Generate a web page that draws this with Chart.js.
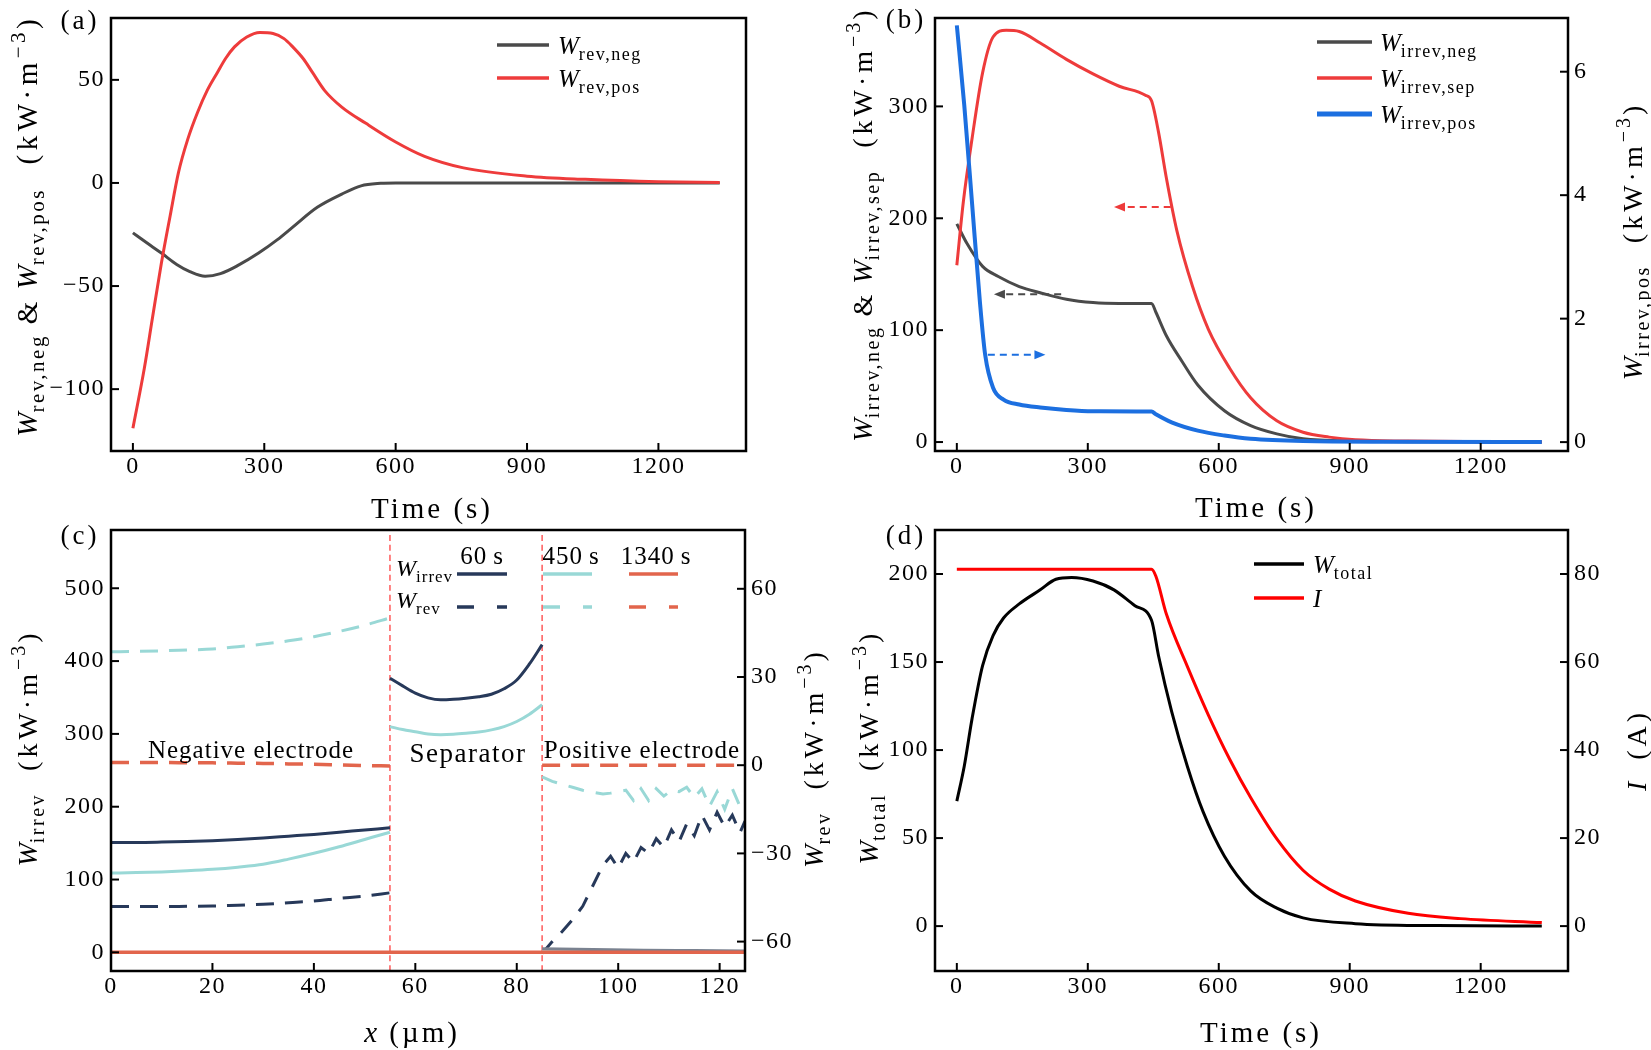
<!DOCTYPE html>
<html>
<head>
<meta charset="utf-8">
<script src="https://cdn.jsdelivr.net/npm/chart.js@4.4.1/dist/chart.umd.min.js"></script>
<style>
  html, body { margin: 0; background: #fff; }
  #wrap { position: relative; width: 1651px; height: 1050px; }
  canvas { position: absolute; left: 0; top: 0; }
</style>
</head>
<body>
<div id="wrap">
  <canvas id="pa" width="1651" height="1050"></canvas>
  <canvas id="pb" width="1651" height="1050"></canvas>
  <canvas id="pc" width="1651" height="1050"></canvas>
  <canvas id="pd" width="1651" height="1050"></canvas>
</div>
<script>
// ---- data ----
// (a) reversible heat vs time
const tRevNeg = [0, 30, 65, 100, 130, 165, 200, 240, 287, 330, 365, 421, 477, 521, 566, 600, 700, 900, 1100, 1340];
const wRevNeg = [-24.2, -28.8, -34, -39.5, -43, -45.3, -44, -40, -34, -27.5, -21.4, -11.8, -5.4, -1.4, -0.2, 0, 0, 0, 0, 0];
const tRevPos = [0, 26, 45, 65, 85, 104, 125, 148, 170, 193, 212, 232, 260, 290, 320, 345, 365, 390, 410, 438, 477, 532, 599, 666, 755, 900, 1033, 1200, 1340];
const wRevPos = [-119, -90, -65, -39, -16, 5, 21, 34.4, 45, 53.6, 60.5, 66, 70.8, 73, 72.5, 70, 66, 60, 53.6, 44.8, 36.8, 28.9, 20, 12.9, 7.3, 3.3, 1.75, 0.6, 0.2];

// (b) irreversible heat vs time
const tIrrNeg = [0, 23, 59, 95, 143, 191, 251, 312, 372, 446, 456, 480, 516, 552, 613, 673, 733, 793, 913, 1100, 1340];
const wIrrNeg = [195, 177.6, 157, 148, 139, 133.5, 127.7, 124.7, 123.9, 123.9, 116, 95, 72, 51, 28, 14.7, 7.3, 2.9, 0.9, 0.2, 0];
const tIrrSep = [0, 15, 35, 59, 83, 113, 143, 191, 251, 312, 372, 432, 446, 462, 480, 504, 540, 576, 625, 673, 733, 793, 853, 913, 1034, 1200, 1340];
const wIrrSep = [158, 215, 271.5, 330, 362, 368, 367, 356.6, 342, 329, 318, 310, 305, 277, 236, 189, 139, 101, 66, 39.6, 19, 8.8, 4.4, 2, 0.9, 0.3, 0];
const tIrrPos = [0, 17, 35, 53, 65, 83, 107, 143, 191, 251, 312, 446, 456, 492, 552, 613, 673, 793, 1000, 1340];
const wIrrPos = [6.75, 5.46, 3.86, 2.26, 1.41, 0.88, 0.69, 0.61, 0.56, 0.52, 0.50, 0.495, 0.45, 0.32, 0.186, 0.106, 0.053, 0.016, 0.005, 0];

// (c) profiles along x
const xNeg = [0, 5, 10, 15, 20, 25, 30, 35, 40, 45, 50, 55];
const irr60Neg = [151, 151, 151.5, 152.3, 153.4, 155, 157, 159.5, 162, 165, 168, 171];
const irr450Neg = [109, 109.5, 110.5, 112, 114, 117, 121, 128, 136, 145, 155, 165];
const rev60Neg = [-48.1, -48.1, -48.1, -48, -47.9, -47.6, -47.3, -46.8, -46.2, -45.3, -44.5, -43.4];
const rev450Neg = [38.6, 38.7, 38.9, 39.2, 39.5, 40.3, 41.2, 42.3, 43.7, 45.5, 47.6, 50.1];
const rev1340Neg = [0.9, 0.9, 0.9, 0.85, 0.8, 0.7, 0.6, 0.45, 0.3, 0.1, -0.1, -0.3];
const xSep = [55, 57.5, 60, 62.5, 65, 67.5, 70, 72.5, 75, 77.5, 80, 82.5, 85];
const irr60Sep = [376.5, 366, 356, 349.5, 346.8, 347.5, 349, 351, 354.5, 362, 374, 396, 422.6];
const irr450Sep = [310, 306, 303, 300, 299, 299.5, 300.8, 302.5, 305.5, 310, 317, 327, 340];
const xPosC = [85, 95, 105, 115, 125];
const irr60Pos = [5, 4, 3, 2.5, 2];
const irr450Pos = [3, 2.5, 2, 1.5, 1];
const xAll = [0, 55, 85, 125];
const irr1340 = [0, 0, 0, 0];
const xPos = [85, 87, 89, 91, 93, 95, 97, 98.5, 100, 101.5, 103, 104.5, 106, 107.5, 109, 110.5, 112, 113.5, 115, 116.5, 118, 119.5, 121, 122.5, 124, 125];
const rev60Pos = [-64, -60, -56.5, -52.5, -48, -41, -34, -31, -35, -30, -33, -28, -30, -25, -28, -22, -26, -20, -24, -17, -22, -16, -21, -17, -23, -19];
const rev450Pos = [-4, -5.5, -6.5, -7.5, -8.5, -9.2, -9.8, -9.5, -9, -8.5, -12, -8, -12, -8, -10.5, -8.5, -9, -7.5, -11, -8, -14, -9, -15, -8, -14, -16];
const xPosEnds = [85, 125];
const rev1340Pos = [0, 0];
const xBounds = [55, 85];

// (d) total heat and current
const tTotal = [0, 17, 35, 59, 83, 107, 143, 191, 227, 263, 312, 360, 408, 446, 462, 492, 528, 564, 613, 673, 733, 793, 913, 1100, 1340];
const wTotal = [71, 90.8, 118, 148, 165, 175, 183, 191, 197, 198, 196, 191, 182, 173.7, 153.6, 122, 90.8, 65, 39.7, 20, 10.2, 4.7, 1.4, 0.3, 0];
const tCurr = [0, 446, 456, 480, 528, 576, 625, 673, 733, 793, 853, 913, 1034, 1154, 1340];
const iCurr = [81.1, 81.1, 79.5, 70.9, 59, 48, 37.9, 29.2, 19.8, 12.7, 8.4, 5.7, 2.9, 1.7, 0.8];

// ticks
const timeTicks = [0, 300, 600, 900, 1200];
const aTicks = [-100, -50, 0, 50];
const bTicks = [0, 100, 200, 300];
const bTicksR = [0, 2, 4, 6];
const cTicksX = [0, 20, 40, 60, 80, 100, 120];
const cTicks = [0, 100, 200, 300, 400, 500];
const cTicksR = [-60, -30, 0, 30, 60];
const dTicks = [0, 50, 100, 150, 200];
const dTicksR = [0, 20, 40, 60, 80];

// ---- helpers ----
const FONT = '"Liberation Serif", "DejaVu Serif", "Times New Roman", serif';
const W = 1651, H = 1050, AX = 70, XH = 40;
const GREY = '#4a4a4a', RED = '#ee3b3b', BLUE = '#1c6fe0';
const NAVY = '#27395a', TEAL = '#99d8d6', ORANGE = '#e2654c';

const pts = (xs, ys) => xs.map((x, i) => ({ x: x, y: ys[i] }));
const fmt = v => (v < 0 ? '\u2212' + (-v) : String(v));

function line(xs, ys, color, width, extra) {
  return Object.assign({
    data: pts(xs, ys), borderColor: color, borderWidth: width,
    pointRadius: 0, fill: false, cubicInterpolationMode: 'monotone', yAxisID: 'y'
  }, extra || {});
}

function axis(pos, min, max, ticks) {
  return {
    type: 'linear', position: pos, min: min, max: max,
    afterBuildTicks: s => { s.ticks = ticks.map(v => ({ value: v })); },
    afterFit: s => { if (pos === 'bottom') s.height = XH; else s.width = AX; },
    grid: { display: false, drawTicks: false },
    border: { display: false },
    ticks: {
      font: { family: FONT, size: 24, lineHeight: 1 }, color: '#000',
      padding: pos === 'bottom' ? 4 : 6, autoSkip: false, maxRotation: 0,
      callback: v => fmt(v)
    }
  };
}

function rich(ctx, x, y, parts, size, align, rot) {
  const fz = k => (k === 's' || k === 'p') ? Math.round(size * 0.72) : size;
  const font = k => (k === 'i' ? 'italic ' : '') + fz(k) + 'px ' + FONT;
  let w = 0;
  const ws = parts.map(p => {
    ctx.font = font(p[1]); ctx.letterSpacing = (p[2] || 0) + 'px';
    const m = ctx.measureText(p[0]).width; w += m; return m;
  });
  ctx.save();
  ctx.translate(x, y);
  if (rot) ctx.rotate(-Math.PI / 2);
  let cx = align === 'center' ? -w / 2 : 0;
  ctx.fillStyle = '#000'; ctx.textBaseline = 'alphabetic'; ctx.textAlign = 'left';
  const base = size * 0.34;
  parts.forEach((p, i) => {
    ctx.font = font(p[1]); ctx.letterSpacing = (p[2] || 0) + 'px';
    const dy = p[1] === 's' ? size * 0.26 : p[1] === 'p' ? -size * 0.4 : 0;
    ctx.fillText(p[0], cx, base + dy);
    cx += ws[i];
  });
  ctx.restore();
  ctx.letterSpacing = '0px';
}

function seg(ctx, x1, x2, y, color, width, dash) {
  ctx.save();
  ctx.strokeStyle = color; ctx.lineWidth = width; ctx.setLineDash(dash || []);
  ctx.beginPath(); ctx.moveTo(x1, y); ctx.lineTo(x2, y); ctx.stroke();
  ctx.restore();
}

function arrow(ctx, x1, x2, y, color) {
  ctx.save();
  ctx.strokeStyle = color; ctx.fillStyle = color; ctx.lineWidth = 2;
  const dir = Math.sign(x2 - x1);
  ctx.setLineDash([7, 5]);
  ctx.beginPath(); ctx.moveTo(x1, y); ctx.lineTo(x2 - dir * 8, y); ctx.stroke();
  ctx.setLineDash([]);
  ctx.beginPath();
  ctx.moveTo(x2, y); ctx.lineTo(x2 - dir * 11, y - 4.5); ctx.lineTo(x2 - dir * 11, y + 4.5);
  ctx.closePath(); ctx.fill();
  ctx.restore();
}

function deco(draw) {
  return {
    id: 'deco',
    beforeLayout(c) { c.ctx.letterSpacing = '1.5px'; },
    beforeDraw(c) { c.ctx.letterSpacing = '1.5px'; },
    afterDraw(c) {
      const ctx = c.ctx, a = c.chartArea;
      ctx.save();
      ctx.letterSpacing = '0px';
      ctx.strokeStyle = '#000'; ctx.lineWidth = 2;
      Object.values(c.scales).forEach(s => {
        s.ticks.forEach(t => {
          const p = s.getPixelForValue(t.value);
          ctx.beginPath();
          if (s.position === 'bottom') { ctx.moveTo(p, a.bottom); ctx.lineTo(p, a.bottom - 8); }
          else if (s.position === 'left') { ctx.moveTo(a.left, p); ctx.lineTo(a.left + 8, p); }
          else { ctx.moveTo(a.right, p); ctx.lineTo(a.right - 8, p); }
          ctx.stroke();
        });
      });
      ctx.lineWidth = 2.5;
      ctx.strokeRect(a.left, a.top, a.right - a.left, a.bottom - a.top);
      draw(ctx, c);
      ctx.restore();
    }
  };
}

function build(id, area, scales, datasets, draw) {
  const hasR = !!scales.y1;
  return new Chart(document.getElementById(id), {
    type: 'line',
    data: { datasets: datasets },
    options: {
      responsive: false, animation: false, devicePixelRatio: 1, events: [],
      layout: { padding: { left: area.l - AX, right: W - area.r - (hasR ? AX : 0), top: area.t, bottom: H - area.b - XH } },
      plugins: { legend: { display: false }, tooltip: { enabled: false } },
      scales: scales
    },
    plugins: [deco(draw)]
  });
}

const unit = [['  (kW\u00b7m', 'r', 4], ['\u22123', 'p', 3], [')', 'r']];
const unitA = [['  (kW\u00b7m', 'r', 4.5], ['\u22123', 'p', 3.5], [')', 'r']];

// ---- (a) ----
build('pa', { l: 111, r: 746, t: 12, b: 451 },
  { x: axis('bottom', -50, 1400, timeTicks), y: axis('left', -130, 80, aTicks) },
  [
    line(tRevPos, wRevPos, RED, 3),
    line(tRevNeg, wRevNeg, GREY, 3)
  ],
  ctx => {
    rich(ctx, 80, 20, [['(a)', 'r', 3]], 27, 'center');
    rich(ctx, 432, 508, [['Time (s)', 'r', 3]], 29, 'center');
    rich(ctx, 27, 228, [['W', 'i'], ['rev,neg', 's', 2.5], [' & ', 'r', 2.5], ['W', 'i'], ['rev,pos', 's', 2.5]].concat(unitA), 29, 'center', true);
    seg(ctx, 497, 549, 45, GREY, 3.5);
    rich(ctx, 558, 45, [['W', 'i'], ['rev,neg', 's', 1.5]], 25, 'left');
    seg(ctx, 497, 549, 78, RED, 3.5);
    rich(ctx, 558, 78, [['W', 'i'], ['rev,pos', 's', 1.5]], 25, 'left');
  });

// ---- (b) ----
build('pb', { l: 935, r: 1568, t: 12, b: 451 },
  { x: axis('bottom', -50, 1400, timeTicks), y: axis('left', -8, 379, bTicks), y1: axis('right', -0.144, 6.87, bTicksR) },
  [
    line(tIrrPos, wIrrPos, BLUE, 4, { yAxisID: 'y1' }),
    line(tIrrSep, wIrrSep, RED, 3),
    line(tIrrNeg, wIrrNeg, GREY, 3)
  ],
  (ctx, c) => {
    const sx = c.scales.x, sy = c.scales.y;
    arrow(ctx, sx.getPixelForValue(490), sx.getPixelForValue(360), sy.getPixelForValue(210), RED);
    arrow(ctx, sx.getPixelForValue(239), sx.getPixelForValue(85), sy.getPixelForValue(132), GREY);
    arrow(ctx, sx.getPixelForValue(71), sx.getPixelForValue(203), sy.getPixelForValue(78), BLUE);
    rich(ctx, 906, 19, [['(b)', 'r', 3]], 27, 'center');
    rich(ctx, 1256, 507, [['Time (s)', 'r', 3]], 29, 'center');
    rich(ctx, 862, 226, [['W', 'i'], ['irrev,neg', 's', 2.5], [' & ', 'r', 2], ['W', 'i'], ['irrev,sep', 's', 2.5]].concat(unit), 28, 'center', true);
    rich(ctx, 1632, 243, [['W', 'i'], ['irrev,pos', 's', 2.5]].concat(unit), 28, 'center', true);
    seg(ctx, 1317, 1372, 42, GREY, 3.5);
    rich(ctx, 1380, 42, [['W', 'i'], ['irrev,neg', 's', 1.5]], 25, 'left');
    seg(ctx, 1317, 1372, 78, RED, 3.5);
    rich(ctx, 1380, 78, [['W', 'i'], ['irrev,sep', 's', 1.5]], 25, 'left');
    seg(ctx, 1317, 1372, 114, BLUE, 5);
    rich(ctx, 1380, 114, [['W', 'i'], ['irrev,pos', 's', 1.5]], 25, 'left');
  });

// ---- (c) ----
const dash = { borderDash: [18, 11], yAxisID: 'y1' };
const jag = { borderDash: [16, 12], yAxisID: 'y1', cubicInterpolationMode: 'default', tension: 0 };
build('pc', { l: 111, r: 745, t: 530, b: 971 },
  { x: axis('bottom', 0, 125, cTicksX), y: axis('left', -25.6, 580, cTicks), y1: axis('right', -70, 80, cTicksR) },
  [
    line(xAll, irr1340, ORANGE, 3.5),
    line(xNeg, rev1340Neg, ORANGE, 3.5, dash),
    line(xPosEnds, rev1340Pos, ORANGE, 3.5, dash),
    line(xNeg, irr60Neg, NAVY, 3),
    line(xSep, irr60Sep, NAVY, 3),
    line(xPosC, irr60Pos, '#7a8290', 3),
    line(xNeg, irr450Neg, TEAL, 3),
    line(xSep, irr450Sep, TEAL, 3),
    line(xPosC, irr450Pos, '#b9dcdc', 3),
    line(xNeg, rev60Neg, NAVY, 3, dash),
    line(xPos, rev60Pos, NAVY, 3, jag),
    line(xNeg, rev450Neg, TEAL, 3, dash),
    line(xPos, rev450Pos, TEAL, 3, jag),
    line([xBounds[0], xBounds[0]], [-25.6, 580], '#ff5a5a', 1.5, { borderDash: [6, 4] }),
    line([xBounds[1], xBounds[1]], [-25.6, 580], '#ff5a5a', 1.5, { borderDash: [6, 4] })
  ],
  ctx => {
    rich(ctx, 80, 535, [['(c)', 'r', 3]], 27, 'center');
    rich(ctx, 412, 1032, [['x', 'i', 2], [' (\u00b5m)', 'r', 3]], 29, 'center');
    rich(ctx, 27, 750, [['W', 'i'], ['irrev', 's', 2.5]].concat(unit), 28, 'center', true);
    rich(ctx, 813, 760, [['W', 'i'], ['rev', 's', 2.5]].concat(unit), 28, 'center', true);
    rich(ctx, 251, 749, [['Negative electrode', 'r', 1]], 25, 'center');
    rich(ctx, 468, 753, [['Separator', 'r', 1.5]], 27, 'center');
    rich(ctx, 642, 749, [['Positive electrode', 'r', 1]], 25, 'center');
    rich(ctx, 482, 555, [['60\u2009s', 'r', 1]], 25, 'center');
    rich(ctx, 571, 555, [['450\u2009s', 'r', 1]], 25, 'center');
    rich(ctx, 656, 555, [['1340\u2009s', 'r', 1]], 25, 'center');
    rich(ctx, 396, 568, [['W', 'i'], ['irrev', 's', 1]], 24, 'left');
    rich(ctx, 396, 600, [['W', 'i'], ['rev', 's', 1]], 24, 'left');
    seg(ctx, 457, 507, 574, NAVY, 3.5);
    seg(ctx, 543, 592, 574, TEAL, 3.5);
    seg(ctx, 629, 678, 574, ORANGE, 3.5);
    seg(ctx, 457, 507, 607, NAVY, 3.5, [17, 23]);
    seg(ctx, 543, 592, 607, TEAL, 3.5, [17, 23]);
    seg(ctx, 629, 678, 607, ORANGE, 3.5, [17, 23]);
  });

// ---- (d) ----
build('pd', { l: 935, r: 1568, t: 530, b: 971 },
  { x: axis('bottom', -50, 1400, timeTicks), y: axis('left', -25.5, 225, dTicks), y1: axis('right', -10.2, 90, dTicksR) },
  [
    line(tTotal, wTotal, '#000', 3),
    line(tCurr, iCurr, '#ff0000', 3, { yAxisID: 'y1' })
  ],
  ctx => {
    rich(ctx, 906, 535, [['(d)', 'r', 3]], 27, 'center');
    rich(ctx, 1261, 1032, [['Time (s)', 'r', 3]], 29, 'center');
    rich(ctx, 868, 749, [['W', 'i'], ['total', 's', 2.5]].concat(unit), 28, 'center', true);
    rich(ctx, 1636, 750, [['I', 'i'], ['  (A)', 'r', 4]], 28, 'center', true);
    seg(ctx, 1254, 1304, 564, '#000', 3.5);
    rich(ctx, 1313, 564, [['W', 'i'], ['total', 's', 1.5]], 25, 'left');
    seg(ctx, 1254, 1304, 598, '#ff0000', 3.5);
    rich(ctx, 1313, 598, [['I', 'i']], 25, 'left');
  });
</script>
</body>
</html>
